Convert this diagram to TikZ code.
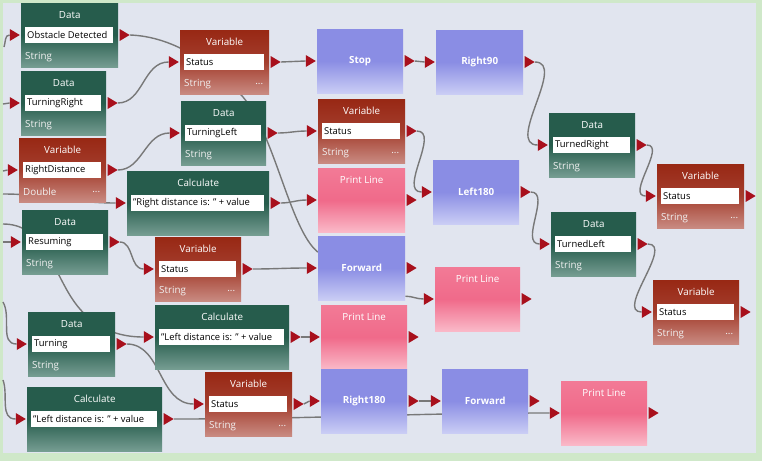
\documentclass[tikz,border=0pt]{standalone}
\usepackage{fontspec}
\setmainfont{Open Sans}
\usetikzlibrary{positioning}
\definecolor{bgfill}{RGB}{225,229,239}
\definecolor{bgframe}{RGB}{207,232,201}
\definecolor{dgreen}{RGB}{38,92,76}
\definecolor{dgreenlight}{RGB}{118,157,146}
\definecolor{vred}{RGB}{152,40,20}
\definecolor{vredmid}{RGB}{164,62,46}
\definecolor{vredlight}{RGB}{201,139,130}
\definecolor{ablue}{RGB}{138,141,228}
\definecolor{abluelight}{RGB}{202,205,245}
\definecolor{ppink}{RGB}{240,106,138}
\definecolor{ppinktop}{RGB}{242,122,150}
\definecolor{ppinklight}{RGB}{250,185,200}
\definecolor{portred}{RGB}{168,16,28}
\definecolor{wiregrey}{RGB}{120,120,120}
\tikzstyle{block} = [rectangle, anchor=north west, inner sep=0pt, minimum height=64pt]
\tikzstyle{datab} = [block, top color=dgreen, bottom color=dgreenlight, middle color=dgreen]
\tikzstyle{varb} = [block, top color=vred, bottom color=vredlight, middle color=vredmid]
\tikzstyle{actb} = [block, top color=ablue, bottom color=abluelight, middle color=ablue]
\tikzstyle{printb} = [block, top color=ppinktop, bottom color=ppinklight, middle color=ppink]
\tikzstyle{title} = [text=white, inner sep=0pt, font=\fontsize{9.8}{11}\selectfont]
\tikzstyle{fieldtext} = [anchor=west, text=black, inner sep=0pt, font=\fontsize{9.4}{11}\selectfont]
\tikzstyle{typetext} = [anchor=west, text=white!90!gray, inner sep=0pt, font=\fontsize{9.8}{11}\selectfont]
\tikzstyle{actlabel} = [text=white, inner sep=0pt, font=\fontsize{9.8}{11}\selectfont\bfseries]
\tikzstyle{port} = [rectangle, inner sep=0pt, minimum width=10pt, minimum height=12pt,
  path picture={\fill[portred] (path picture bounding box.north west) -- (path picture bounding box.east) -- (path picture bounding box.south west) -- cycle;}]
\tikzstyle{wire} = [draw=wiregrey, line width=1.4pt]
\pgfdeclarelayer{bg}
\pgfdeclarelayer{wires}
\pgfsetlayers{bg,wires,main}

% block with title, white field and type row: name, style, x/y, width, title, field, type, extra
\newcommand{\fieldnode}[8]{%
  \node (#1) [#2, minimum width=#4pt] at (#3) {};
  \node [title] at ([yshift=-12pt]#1.north) {#5};
  \fill[white] ([xshift=4pt,yshift=-24pt]#1.north west) rectangle ([xshift=-5pt,yshift=-40pt]#1.north east);
  \node [fieldtext] at ([xshift=6pt,yshift=-32pt]#1.north west) {#6};
  \node [typetext] at ([xshift=4pt,yshift=-54pt]#1.north west) {#7};
  \node [typetext, anchor=east] at ([xshift=-6pt,yshift=-54pt]#1.north east) {#8};
  \node (#1-in) [port, anchor=east] at ([xshift=-1pt,yshift=-32pt]#1.north west) {};
  \node (#1-out) [port, anchor=west] at ([xshift=1pt,yshift=-32pt]#1.north east) {};
}
% action block with centred bold label: name, x/y, width, label
\newcommand{\actnode}[4]{%
  \node (#1) [actb, minimum width=#3pt] at (#2) {};
  \node [actlabel] at (#1.center) {#4};
  \node (#1-in) [port, anchor=east] at ([xshift=-1pt,yshift=-32pt]#1.north west) {};
  \node (#1-out) [port, anchor=west] at ([xshift=1pt,yshift=-32pt]#1.north east) {};
}
% print block with title on top: name, x/y, width, label
\newcommand{\printnode}[4]{%
  \node (#1) [printb, minimum width=#3pt] at (#2) {};
  \node [title] at ([yshift=-12pt]#1.north) {#4};
  \node (#1-in) [port, anchor=east] at ([xshift=-1pt,yshift=-32pt]#1.north west) {};
  \node (#1-out) [port, anchor=west] at ([xshift=1pt,yshift=-32pt]#1.north east) {};
}

\begin{document}
\begin{tikzpicture}[x=1pt, y=-1pt]
\useasboundingbox (0,0) rectangle (762,461);
\begin{pgfonlayer}{bg}
\fill[bgframe] (0,0) rectangle (762,461);
\fill[bgfill] (3,3) rectangle (756,453);
\end{pgfonlayer}

% first column
\fieldnode{obstacle}{datab}{21,3}{97}{Data}{Obstacle Detected}{String}{}
\fieldnode{turnright}{datab}{21,71}{85}{Data}{TurningRight}{String}{}
\fieldnode{rightdist}{varb}{19,138}{87}{Variable}{RightDistance}{Double}{...}
\fieldnode{resuming}{datab}{22,210}{86}{Data}{Resuming}{String}{}
\fieldnode{turning}{datab}{28,312}{87}{Data}{Turning}{String}{}
\fieldnode{calcbot}{datab}{27,387}{135}{Calculate}{"Left distance is: " + value}{}{}

% second column
\fieldnode{status1}{varb}{180,30}{89}{Variable}{Status}{String}{...}
\fieldnode{turnleft}{datab}{181,101}{85}{Data}{TurningLeft}{String}{}
\fieldnode{calcright}{datab}{127,171}{142}{Calculate}{"Right distance is: " + value}{}{}
\fieldnode{status2}{varb}{155,237}{86}{Variable}{Status}{String}{...}
\fieldnode{calcleft}{datab}{155,305}{134}{Calculate}{"Left distance is: " + value}{}{}
\fieldnode{status3}{varb}{205,372}{87}{Variable}{Status}{String}{...}

% third column
\actnode{stop}{317,29}{86}{Stop}
\fieldnode{status4}{varb}{318,99}{87}{Variable}{Status}{String}{...}
\printnode{print1}{318,168}{87}{Print Line}
\actnode{forward1}{318,236}{87}{Forward}
\printnode{print2}{321,305}{86}{Print Line}
\actnode{right180}{321,369}{86}{Right180}

% fourth column
\actnode{right90}{436,30}{87}{Right90}
\actnode{left180}{433,160}{86}{Left180}
\printnode{print3}{435,267}{85}{Print Line}
\actnode{forward2}{442,369}{86}{Forward}
\printnode{print4}{561,381}{86}{Print Line}

% right side
\fieldnode{turnedright}{datab}{549,113}{86}{Data}{TurnedRight}{String}{}
\fieldnode{turnedleft}{datab}{551,212}{85}{Data}{TurnedLeft}{String}{}
\fieldnode{status5}{varb}{657,164}{87}{Variable}{Status}{String}{...}
\fieldnode{status6}{varb}{653,280}{86}{Variable}{Status}{String}{...}

% loose ends coming in from the left
\coordinate (in1) at (4,47);
\coordinate (in2) at (3,104);
\coordinate (in3) at (3,171);
\coordinate (in4) at (3,194);
\coordinate (in5) at (3,224);
\coordinate (in6) at (3,242);
\coordinate (in7) at (3,302);
\coordinate (in8) at (3,380);

% wires
\begin{pgfonlayer}{wires}
\draw[wire] (in1) to[out=70,in=180] (obstacle-in.west);
\draw[wire] (in2) -- (turnright-in.west);
\draw[wire] (in3) -- (rightdist-in.west);
\draw[wire] (in4) to[out=0,in=180] (calcright-in.west);
\draw[wire] (in5) to[out=0,in=120] (68,292) to[out=-60,in=180] (calcleft-in.west);
\draw[wire] (in6) -- (resuming-in.west);
\draw[wire] (in7) to[out=-60,in=180] (turning-in.west);
\draw[wire] (in8) to[out=-70,in=180] (calcbot-in.west);

\draw[wire] (obstacle-out.east) .. controls (160,36) and (200,50) .. (243,97) .. controls (275,135) and (290,230) .. ([yshift=16pt]forward1.west);
\draw[wire] (turnright-out.east) to[out=0,in=180] (status1-in.west);
\draw[wire] (rightdist-out.east) to[out=0,in=180] (turnleft-in.west);
\draw[wire] (resuming-out.east) to[out=0,in=180] (status2-in.west);
\draw[wire] (turning-out.east) to[out=0,in=180] (status3-in.west);
\draw[wire] (calcbot-out.east) to[out=0,in=180] (print4-in.west);

\draw[wire] (status1-out.east) -- (stop-in.west);
\draw[wire] (turnleft-out.east) to[out=0,in=180] (status4-in.west);
\draw[wire] (calcright-out.east) to[out=0,in=180] (print1-in.west);
\draw[wire] (status2-out.east) to[out=0,in=180] (forward1-in.west);
\draw[wire] (calcleft-out.east) -- (print2-in.west);
\draw[wire] (status3-out.east) to[out=0,in=180] (right180-in.west);

\draw[wire] (stop-out.east) -- (right90-in.west);
\draw[wire] (status4-out.east) to[out=0,in=180] (left180-in.west);
\draw[wire] ([yshift=-28pt]forward1.east) to[out=0,in=180] (print3-in.west);
\draw[wire] (right180-out.east) -- (forward2-in.west);

\draw[wire] (right90-out.east) to[out=0,in=180] (turnedright-in.west);
\draw[wire] (left180-out.east) to[out=0,in=180] (turnedleft-in.west);
\draw[wire] (turnedright-out.east) to[out=0,in=180] (status5-in.west);
\draw[wire] (turnedleft-out.east) to[out=0,in=180] (status6-in.west);
\end{pgfonlayer}
\end{tikzpicture}
\end{document}
